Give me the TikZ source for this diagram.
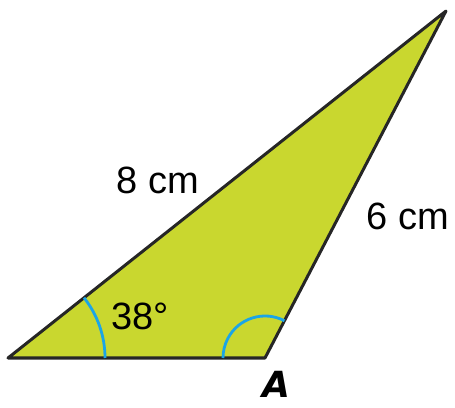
\documentclass[tikz,border=0pt]{standalone}
\usepackage{fontspec}
\setmainfont{Liberation Sans}
\newfontfamily\vertexfont{DejaVu Sans}
\usepackage{xcolor}
\usepackage{tikz}
\definecolor{leaf}{HTML}{C9D72F}
\definecolor{mark}{HTML}{1BA5E6}

\begin{document}
\begin{tikzpicture}[x=0.5pt,y=0.5pt,
  side/.style={font=\fontsize{19}{22}\selectfont,inner sep=0pt},
  anglemark/.style={draw=mark,line width=1.4pt}]
  \useasboundingbox (0,0) rectangle (455,407);
  \coordinate (B) at (8,49); \coordinate (A) at (265,49); \coordinate (C) at (446,396);
  \filldraw[fill=leaf,draw=black!85,line width=1.5pt,line join=round] (B)--(A)--(C)--cycle;
  \draw[anglemark] ([shift={(0:97)}]B) arc[start angle=0,end angle=38.4,radius=97];
  \draw[anglemark] ([shift={(62.4:42)}]A) arc[start angle=62.4,end angle=180,radius=42];
  \node[side] (hyp) at (158,227) {8 cm};
  \node[side] (short) at (408,191) {6 cm};
  \node[side] (ang) at (140,91) {38°};
  \node[font=\vertexfont\bfseries\itshape\fontsize{18}{20}\selectfont,inner sep=0pt] (lab) at (276,23) {A};
\end{tikzpicture}
\end{document}
